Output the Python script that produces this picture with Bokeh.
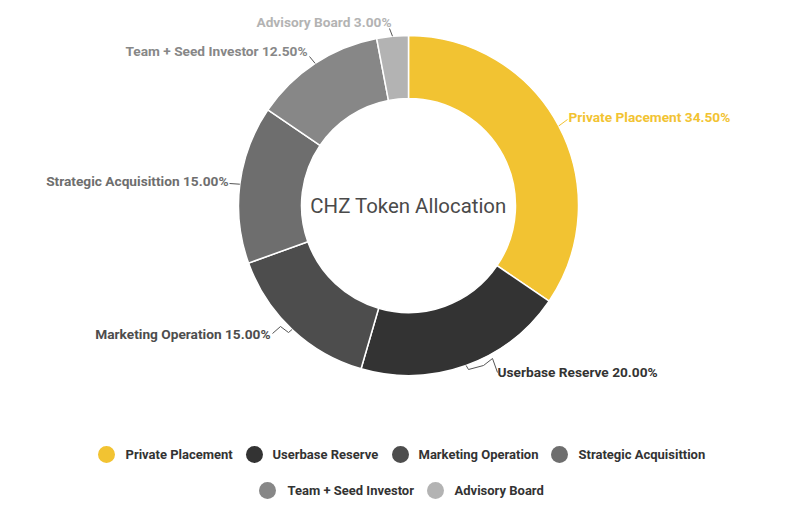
import math
from bokeh.plotting import figure
from bokeh.models import Range1d, ColumnDataSource
from bokeh.core.properties import value
from bokeh.embed import file_html
from bokeh.resources import INLINE

# ---- data ----
categories = ["Private Placement", "Userbase Reserve", "Marketing Operation",
              "Strategic Acquisittion", "Team + Seed Investor", "Advisory Board"]
shares = [34.5, 20.0, 15.0, 15.0, 12.5, 3.0]
colors = ["#F2C332", "#333333", "#4d4d4d", "#6e6e6e", "#878787", "#b3b3b3"]
title_text = "CHZ Token Allocation"

# ---- layout ----
W, H = 784, 501
def X(ix): return ix
def Y(iy): return H - iy

cx, cy = X(408), Y(205)
R_OUT, R_IN = 170, 107

p = figure(width=W, height=H, output_backend="svg", toolbar_location=None,
           x_range=Range1d(0, W), y_range=Range1d(0, H), min_border=0)
p.axis.visible = False
p.grid.visible = False
p.outline_line_color = None
p.background_fill_color = "white"

total = sum(shares)
starts, ends, mids = [], [], []
cum = 0.0
for s in shares:
    a0 = cum / total
    cum += s
    a1 = cum / total
    starts.append(math.pi / 2 - 2 * math.pi * a0)
    ends.append(math.pi / 2 - 2 * math.pi * a1)
    mids.append((a0 + a1) / 2 * 2 * math.pi)

src = ColumnDataSource(dict(start=starts, end=ends, color=colors))
p.annular_wedge(x=cx, y=cy, inner_radius=R_IN, outer_radius=R_OUT,
                inner_radius_units="screen", outer_radius_units="screen",
                start_angle="start", end_angle="end", direction="clock",
                fill_color="color", line_color="white", line_width=1.5, source=src)

p.text(x=[cx], y=[cy], text=[title_text], text_font=value("Roboto"),
       text_font_size="20.4px", text_color="#4a4a4a",
       text_align="center", text_baseline="middle")

# label layout (image px): (text x, text y, align, leader points after anchor)
label_layout = [
    (568, 116, "left",  [(567, 119)]),
    (497, 371, "left",  [(468, 369), (483, 365), (492, 358), (497, 372)]),
    (270, 333, "right", [(288, 332), (280, 326), (272, 333)]),
    (228, 180, "right", [(229, 183)]),
    (307, 50,  "right", [(309, 56)]),
    (391, 21,  "right", [(389, 28)]),
]
label_colors = ["#F2C332", "#333333", "#4d4d4d", "#6e6e6e", "#878787", "#b3b3b3"]

for i, (name, s) in enumerate(zip(categories, shares)):
    m = mids[i]
    ax = cx + R_OUT * math.sin(m)
    ay = cy + R_OUT * math.cos(m)
    tx, ty, al, pts = label_layout[i]
    xs = [ax] + [X(px) for px, py in pts]
    ys = [ay] + [Y(py) for px, py in pts]
    p.line(xs, ys, line_color="#555555" if i else label_colors[0], line_width=1)
    p.text(x=[X(tx)], y=[Y(ty)], text=[f"{name} {s:.2f}%"],
           text_font=value("Roboto"), text_font_style="bold",
           text_font_size="13.7px", text_color=label_colors[i],
           text_align=al, text_baseline="middle")

# legend layout (image px): (circle x, text x, y)
legend_layout = [(106, 125, 454), (254, 272, 454), (400, 418, 454), (559, 578, 454),
                 (267, 287, 490), (435, 454, 490)]
for i, name in enumerate(categories):
    lx, tx, ly = legend_layout[i]
    p.scatter(x=[X(lx)], y=[Y(ly)], size=17, marker="circle",
              fill_color=colors[i], line_color=None)
    p.text(x=[X(tx)], y=[Y(ly)], text=[name], text_font=value("Roboto"),
           text_font_style="bold", text_font_size="13px", text_color="#333333",
           text_align="left", text_baseline="middle")

open("out.html", "w").write(file_html(p, INLINE))
